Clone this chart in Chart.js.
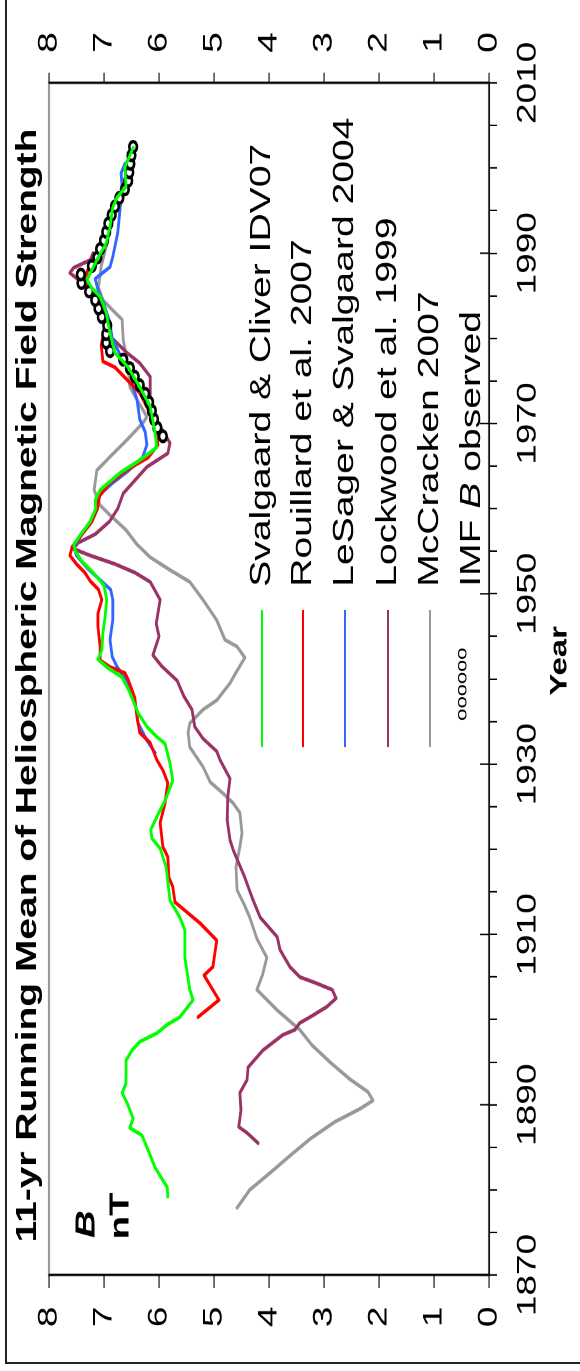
<!DOCTYPE html>
<html>
<head>
<meta charset="utf-8">
<script src="https://cdn.jsdelivr.net/npm/chart.js@4.4.0/dist/chart.umd.min.js"></script>
<style>
  html, body { margin: 0; padding: 0; background: #fff; width: 580px; height: 1371px; overflow: hidden; }
  #frame { position: absolute; left: 5px; top: 0; width: 600px; height: 1364px;
           border-left: 2px solid #222; border-bottom: 2px solid #222; box-sizing: border-box; }
  /* the chart is laid out landscape, then turned to read bottom-to-top and stretched along the year axis */
  #wrap { position: absolute; left: 0; top: 0; width: 1000px; height: 580px;
          transform-origin: 0 0; transform: translate(0px, 1371px) rotate(-90deg) scale(1.371, 1); }
  canvas { display: block; }
</style>
</head>
<body>
<div id="frame"></div>
<div id="wrap"><canvas id="c" width="1000" height="580"></canvas></div>
<script>
// Svalgaard & Cliver IDV07
const idvYears = [1879.2,1880.3,1882.6,1884.7,1886.4,1887.3,1888.4,1890.2,1891.4,1892.5,1895.2,1896.4,1897.4,1898.4,1899.4,1900.3,1902.3,1903.5,1907.3,1910.5,1912.0,1914.0,1917.9,1920.1,1921.3,1922.3,1923.8,1926.0,1928.1,1930.1,1932.4,1933.2,1934.4,1936.0,1938.4,1940.2,1941.4,1942.3,1943.4,1945.4,1947.3,1949.3,1951.0,1952.5,1953.8,1955.0,1955.8,1957.0,1958.5,1960.0,1961.0,1962.2,1964.2,1965.7,1967.2,1968.9,1972.0,1974.3,1976.6,1978.3,1980.6,1983.0,1984.9,1985.9,1986.9,1989.2,1991.2,1993.1,1995.4,1996.6,1997.8,2000.1,2002.4];
const idvB = [5.84,5.85,6.07,6.20,6.31,6.53,6.47,6.58,6.67,6.60,6.60,6.49,6.35,6.04,5.85,5.62,5.38,5.44,5.53,5.53,5.62,5.80,5.87,5.98,6.13,6.15,6.04,5.87,5.75,5.80,5.89,6.04,6.22,6.38,6.53,6.67,6.95,7.11,7.04,7.02,6.98,6.95,7.00,7.20,7.40,7.52,7.55,7.42,7.25,7.15,7.16,7.07,6.71,6.35,6.04,6.07,6.16,6.35,6.56,6.80,6.89,6.96,7.07,7.22,7.31,7.13,6.96,6.89,6.84,6.76,6.60,6.62,6.47];

// Rouillard et al. 2007
const rouYears = [1900.3,1902.3,1905.2,1906.2,1909.3,1911.3,1912.6,1913.8,1915.6,1916.7,1919.1,1920.3,1923.1,1925.4,1927.8,1929.3,1930.5,1932.5,1933.7,1935.5,1937.8,1939.9,1940.7,1941.4,1942.2,1943.8,1946.1,1947.7,1949.3,1950.5,1951.5,1952.5,1953.5,1954.5,1955.5,1957.0,1958.5,1960.0,1961.5,1963.0,1964.5,1966.0,1967.5,1969.0,1970.4,1973.6,1976.6,1977.3,1979.2,1981.0,1983.0,1985.0,1986.5,1988.0,1989.5,1991.5,1993.5,1995.5,1997.5,1999.5,2002.0];
const rouB = [5.29,4.91,5.18,5.02,4.95,5.25,5.49,5.71,5.75,5.82,5.84,5.93,5.98,5.89,5.84,5.93,6.04,6.16,6.35,6.40,6.44,6.56,6.62,6.89,7.07,7.07,7.11,7.11,7.04,7.10,7.25,7.35,7.50,7.62,7.58,7.40,7.22,7.12,7.08,6.90,6.60,6.20,6.02,6.04,6.10,6.35,6.80,7.02,7.05,7.00,7.02,7.15,7.35,7.30,7.10,6.98,6.90,6.80,6.65,6.58,6.50];

// LeSager & Svalgaard 2004
const lsYears = [1931.3,1932.8,1934.8,1937.5,1939.6,1941.4,1942.6,1944.6,1946.9,1949.3,1950.5,1951.8,1953.0,1954.5,1955.5,1957.0,1958.5,1960.0,1961.5,1963.0,1964.5,1966.0,1967.5,1969.0,1970.5,1972.8,1974.3,1976.0,1978.0,1980.0,1982.0,1984.0,1985.5,1987.0,1988.4,1989.6,1992.4,1995.1,1997.8,1999.4,2000.5];
const lsB = [6.07,6.22,6.38,6.44,6.56,6.76,6.85,6.89,6.84,6.84,6.88,7.10,7.30,7.50,7.55,7.40,7.22,7.12,7.10,6.85,6.55,6.30,6.22,6.25,6.35,6.40,6.47,6.50,6.70,6.85,6.90,7.00,7.10,7.16,6.89,6.84,6.75,6.71,6.67,6.69,6.62];

// Lockwood et al. 1999
const lwYears = [1885.5,1886.7,1887.4,1889.4,1891.4,1892.9,1894.4,1896.4,1898.2,1898.8,1899.6,1900.5,1901.5,1902.5,1903.5,1904.3,1905.0,1906.2,1908.2,1909.7,1912.0,1914.2,1916.7,1919.9,1921.1,1923.4,1926.1,1928.3,1930.5,1931.5,1933.0,1934.4,1936.4,1938.0,1939.8,1941.5,1942.8,1945.0,1946.5,1949.3,1951.4,1952.5,1953.5,1954.5,1955.3,1956.0,1957.0,1958.5,1960.0,1961.8,1964.9,1966.5,1967.7,1970.4,1972.8,1975.5,1977.1,1978.3,1980.0,1982.0,1984.0,1986.0,1986.8,1987.7,1988.3,1989.2,1990.0];
const lwB = [4.20,4.40,4.55,4.51,4.53,4.40,4.38,4.11,3.75,3.53,3.44,3.20,2.95,2.78,2.85,3.15,3.44,3.62,3.80,3.85,4.16,4.30,4.44,4.65,4.71,4.76,4.75,4.71,4.89,4.95,5.20,5.35,5.40,5.55,5.67,5.95,6.11,6.00,6.05,5.98,6.16,6.44,6.80,7.25,7.56,7.47,7.16,6.90,6.75,6.65,6.22,5.84,5.80,6.04,6.16,6.16,6.35,6.58,6.85,6.95,7.05,7.30,7.45,7.62,7.55,7.25,7.20];

// McCracken 2007
const mcYears = [1877.9,1880.0,1882.0,1884.0,1886.0,1888.0,1889.5,1890.5,1891.5,1893.0,1895.0,1897.0,1898.8,1901.1,1903.5,1905.2,1907.3,1909.5,1912.0,1913.5,1915.2,1917.9,1920.3,1921.9,1924.3,1925.4,1926.6,1927.9,1929.7,1932.0,1933.7,1934.8,1936.4,1937.5,1939.5,1940.2,1942.5,1943.8,1944.6,1946.9,1949.3,1951.4,1952.8,1954.3,1955.8,1957.5,1959.3,1960.4,1962.2,1964.5,1966.1,1968.1,1970.1,1970.8,1972.8,1974.3,1977.5,1979.8,1982.2,1983.3,1984.5,1986.0,1988.5,1991.0,1994.0,1997.0];
const mcB = [4.58,4.35,3.98,3.62,3.25,2.80,2.35,2.11,2.20,2.53,2.89,3.22,3.44,3.85,4.22,4.12,4.04,4.22,4.35,4.45,4.58,4.60,4.53,4.49,4.53,4.65,4.84,5.07,5.20,5.44,5.47,5.44,5.20,4.95,4.71,4.65,4.44,4.58,4.80,4.95,5.20,5.44,5.80,6.16,6.40,6.60,6.90,7.07,7.18,7.13,6.89,6.58,6.29,6.22,6.40,6.53,6.58,6.65,6.67,6.84,7.02,7.10,7.05,6.95,6.85,6.70];

// IMF B observed (11-yr running mean, one point per year)
const imfYears = [1968.5,1969.5,1970.5,1971.5,1972.5,1973.5,1974.5,1975.5,1976.5,1977.5,1978.5,1979.5,1980.5,1981.5,1982.5,1983.5,1984.5,1985.5,1986.5,1987.5,1988.5,1989.5,1990.5,1991.5,1992.5,1993.5,1994.5,1995.5,1996.5,1997.5,1998.5,1999.5,2000.5,2001.5,2002.5];
const imfB = [5.93,6.03,6.09,6.13,6.18,6.25,6.35,6.44,6.53,6.65,6.89,6.96,6.96,6.94,7.04,7.10,7.16,7.27,7.41,7.42,7.22,7.12,7.07,7.00,6.96,6.92,6.86,6.80,6.72,6.62,6.56,6.54,6.52,6.50,6.47];

// axis ranges and tick labels
const yearMin = 1870, yearMax = 2010, yearStep = 5, yearLabelStep = 20;
const bMin = 0, bMax = 8, bStep = 1;

const FONT = '"Liberation Sans", Arial, Helvetica, sans-serif';
Chart.defaults.font.family = FONT;
Chart.defaults.color = '#000';

const pts = (xs, ys) => xs.map((x, i) => ({ x, y: ys[i] }));
const lineSet = (label, xs, ys, color, order) => ({
  label, data: pts(xs, ys), borderColor: color, backgroundColor: color,
  borderWidth: 2.8, pointRadius: 0, tension: 0, fill: false,
  borderJoinStyle: 'round', borderCapStyle: 'round', order
});

const datasets = [
  lineSet('Svalgaard & Cliver IDV07', idvYears, idvB, '#00ff00', 0),
  lineSet('Rouillard et al. 2007', rouYears, rouB, '#ff0000', 2),
  lineSet('LeSager & Svalgaard 2004', lsYears, lsB, '#3366ff', 3),
  lineSet('Lockwood et al. 1999', lwYears, lwB, '#993366', 4),
  lineSet('McCracken 2007', mcYears, mcB, '#999999', 5),
  {
    label: 'IMF B observed', data: pts(imfYears, imfB), showLine: false,
    pointRadius: 3.8, pointBorderWidth: 2.6, pointBorderColor: '#000',
    pointBackgroundColor: '#fff', borderColor: '#000', order: 1
  }
];

// gray plot-area frame, drawn beneath the black axis lines
const plotFrame = {
  id: 'plotFrame',
  beforeDraw(chart) {
    const { ctx, chartArea: a } = chart;
    ctx.save();
    ctx.strokeStyle = '#9a9a9a';
    ctx.lineWidth = 2.2;
    ctx.strokeRect(a.left, a.top, a.right - a.left, a.bottom - a.top);
    ctx.restore();
  }
};

// key, unit label, axis caption and the inner half of the labelled year ticks
const notes = {
  id: 'notes',
  afterDraw(chart) {
    const { ctx, chartArea: a, scales } = chart;
    ctx.save();

    // labelled year ticks cross the axis line
    ctx.strokeStyle = '#000';
    ctx.lineWidth = 1.1;
    for (let yr = yearMin; yr <= yearMax; yr += yearLabelStep) {
      const px = scales.x.getPixelForValue(yr);
      ctx.beginPath();
      ctx.moveTo(px, a.bottom);
      ctx.lineTo(px, a.bottom - 9);
      ctx.stroke();
    }

    // key
    const u0 = a.left + 385, u1 = a.left + 485, tx = a.left + 502;
    const rows = [213, 254, 296, 339, 381];
    const keyFont = '28.5px ' + FONT;
    ctx.textBaseline = 'middle';
    ctx.textAlign = 'left';
    ctx.font = keyFont;
    for (let i = 0; i < 5; i++) {
      const ds = chart.data.datasets[i];
      const v = a.top + rows[i];
      ctx.strokeStyle = ds.borderColor;
      ctx.lineWidth = 2;
      ctx.beginPath();
      ctx.moveTo(u0, v);
      ctx.lineTo(u1, v);
      ctx.stroke();
      ctx.fillStyle = '#000';
      ctx.fillText(ds.label, tx, v);
    }
    const vImf = a.top + 423;
    let x = tx;
    ctx.font = keyFont;
    ctx.fillText('IMF ', x, vImf); x += ctx.measureText('IMF ').width;
    ctx.font = 'italic ' + keyFont;
    ctx.fillText('B', x, vImf); x += ctx.measureText('B').width;
    ctx.font = keyFont;
    ctx.fillText(' observed', x, vImf);
    ctx.font = '16px ' + FONT;
    ctx.textAlign = 'center';
    ctx.fillText('oooooo', a.left + 431, a.top + 413);

    // unit label
    ctx.textAlign = 'left';
    ctx.font = 'italic bold 28px ' + FONT;
    ctx.fillText('B', a.left + 27, a.top + 38);
    ctx.font = 'bold 28px ' + FONT;
    ctx.fillText('nT', a.left + 26, a.top + 72);

    // axis caption
    ctx.textAlign = 'center';
    ctx.font = 'bold 24px ' + FONT;
    ctx.fillText('Year', a.left + 448, a.bottom + 71);
    ctx.restore();
  }
};

const bAxis = (position, width, tickLen, pad) => ({
  type: 'linear', position, min: bMin, max: bMax,
  ticks: { stepSize: bStep, font: { size: 27 }, color: '#000', padding: pad },
  grid: { drawOnChartArea: false, drawTicks: true, tickLength: tickLen, color: '#000', lineWidth: 1.1 },
  border: { display: true, color: '#000', width: 1.4 },
  afterFit(s) { s.width = width; }
});

new Chart(document.getElementById('c'), {
  type: 'line',
  data: { datasets },
  options: {
    responsive: false,
    animation: false,
    devicePixelRatio: 2,
    layout: { padding: 0 },
    plugins: {
      legend: { display: false },
      tooltip: { enabled: false },
      title: {
        display: true,
        text: '11-yr Running Mean of Heliospheric Magnetic Field Strength',
        color: '#000',
        font: { size: 28.4, weight: 'bold' },
        padding: { top: 10.96, bottom: 3.96 }
      }
    },
    scales: {
      x: {
        type: 'linear', position: 'bottom', min: yearMin, max: yearMax,
        ticks: {
          stepSize: yearStep, autoSkip: false, maxRotation: 0, minRotation: 0,
          font: { size: 27 }, color: '#000', padding: 15,
          callback: v => (Math.round(v) - yearMin) % yearLabelStep === 0 ? String(Math.round(v)) : ''
        },
        grid: { drawOnChartArea: false, drawTicks: true, tickLength: 8, color: '#000', lineWidth: 1.1 },
        border: { display: true, color: '#000', width: 1.4 },
        afterFit(s) { s.height = 91; }
      },
      y: bAxis('left', 70, 9.5, 13.5),
      y2: bAxis('right', 60.5, 7.5, 14.5)
    }
  },
  plugins: [plotFrame, notes]
});
</script>
</body>
</html>
